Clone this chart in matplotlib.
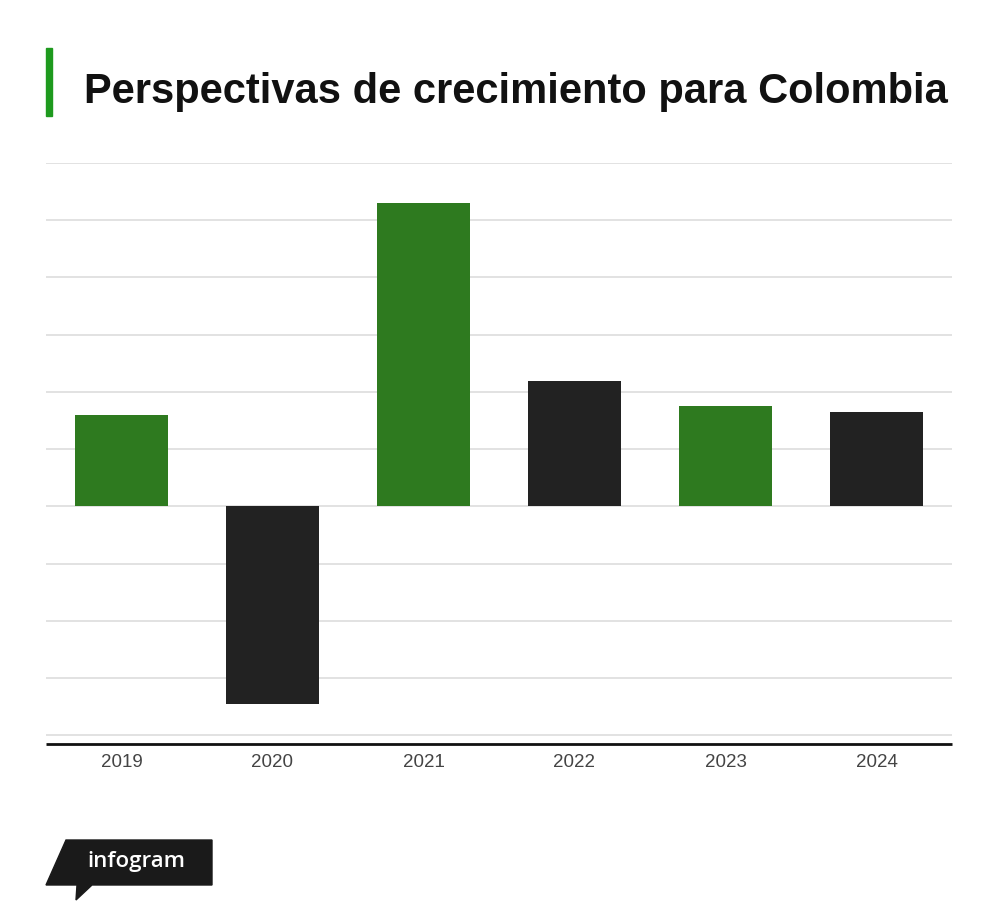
import matplotlib.pyplot as plt
from matplotlib.patches import Polygon, Rectangle

# crecimiento del PIB (%)
years = ['2019', '2020', '2021', '2022', '2023', '2024']
growth = [3.2, -6.9, 10.6, 4.4, 3.5, 3.3]
bar_colors = ['#2e7a1f', '#222222', '#2e7a1f', '#222222', '#2e7a1f', '#222222']
grid_ticks = [-8, -6, -4, -2, 0, 2, 4, 6, 8, 10, 12]

fig = plt.figure(figsize=(10, 9.24), dpi=100)
ax = fig.add_axes([0.046, 1 - 744 / 924, 0.906, (744 - 163) / 924])

x = range(len(years))
ax.bar(x, growth, width=0.61, color=bar_colors, zorder=3)

ax.set_xlim(-0.5, len(years) - 0.5)
ax.set_ylim(-8.3, 12)
ax.set_yticks(grid_ticks)
ax.set_yticklabels([])
ax.tick_params(axis='y', length=0)
ax.grid(axis='y', color='#dddddd', linewidth=1.2, zorder=0)

ax.set_xticks(list(x))
ax.set_xticklabels(years, fontsize=13.5, color='#444444', family='Liberation Sans')
ax.tick_params(axis='x', length=0, pad=7)

for side in ['top', 'right', 'left']:
    ax.spines[side].set_visible(False)
ax.spines['bottom'].set_color('#111111')
ax.spines['bottom'].set_linewidth(2)
ax.spines['bottom'].set_capstyle('butt')

# titulo con barra verde
fig.patches.append(Rectangle((46 / 1000, 1 - 116 / 924), 6 / 1000, 68 / 924,
                             transform=fig.transFigure, color='#1e9a1e'))
fig.text(0.084, 1 - 92 / 924, 'Perspectivas de crecimiento para Colombia',
         fontsize=30, fontweight='bold', family='Liberation Sans',
         color='#111111', va='center', ha='left')

# logo infogram
logo = [(46, 885), (66, 840), (212, 840), (212, 885), (92, 885), (76, 900), (77, 885)]
fig.patches.append(Polygon([(px / 1000, 1 - py / 924) for px, py in logo],
                           closed=True, transform=fig.transFigure,
                           color='#1a1a1a'))
fig.text(0.136, 1 - 861 / 924, 'infogram', fontsize=16, color='white',
         family='Open Sans', fontweight='semibold',
         ha='center', va='center')

fig.savefig('out.png', dpi=100)
